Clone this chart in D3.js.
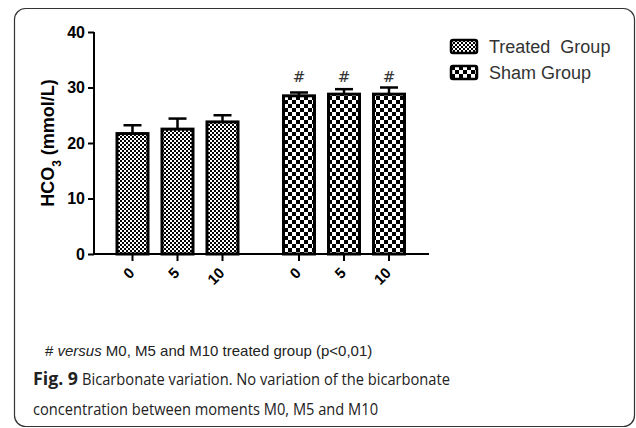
<!DOCTYPE html>
<html>
<head>
<meta charset="utf-8">
<script src="https://cdn.jsdelivr.net/npm/d3@7"></script>
<style>
  body { margin: 0; background: #fff; }
  svg { display: block; }
  svg text { white-space: pre; }
</style>
</head>
<body>
<div id="plot"></div>
<script>
// Bicarbonate values
const groups = ["Treated", "Sham"];
const moments = ["0", "5", "10"];
const treatedMean = [21.7, 22.5, 23.8];
const treatedErr = [1.5, 1.9, 1.2];
const shamMean = [28.5, 28.8, 28.8];
const shamErr = [0.6, 0.9, 1.2];
const yTicks = [0, 10, 20, 30, 40];
const legendLabels = ["Treated  Group", "Sham Group"];

const bars = [];
moments.forEach((m, i) => bars.push({group: "Treated", moment: m, slot: i, mean: treatedMean[i], err: treatedErr[i]}));
moments.forEach((m, i) => bars.push({group: "Sham", moment: m, slot: i + 3.7, mean: shamMean[i], err: shamErr[i]}));

const svg = d3.select("#plot")
  .append("svg")
  .attr("width", 636)
  .attr("height", 428);

const arial = "'Liberation Sans', Arial, sans-serif";

// patterns
const defs = svg.append("defs");
function checker(id, c) {
  const p = defs.append("pattern")
    .attr("id", id)
    .attr("patternUnits", "userSpaceOnUse")
    .attr("width", c * 2)
    .attr("height", c * 2);
  p.append("rect").attr("width", c * 2).attr("height", c * 2).attr("fill", "#fff");
  p.append("rect").attr("width", c).attr("height", c).attr("fill", "#000");
  p.append("rect").attr("x", c).attr("y", c).attr("width", c).attr("height", c).attr("fill", "#000");
}
checker("fine", 2);
checker("coarse", 4);
const fillFor = g => g === "Treated" ? "url(#fine)" : "url(#coarse)";

// figure frame
svg.append("rect")
  .attr("x", 14.5).attr("y", 8.5)
  .attr("width", 620).attr("height", 418)
  .attr("rx", 11)
  .attr("fill", "none")
  .attr("stroke", "#333")
  .attr("stroke-width", 1.2);

// scales
const x = d3.scaleLinear().domain([0, 1]).range([132.5, 177.5]);
const y = d3.scaleLinear().domain([0, 40]).range([254, 32]);
const barW = 31;

// y axis
const yAxis = svg.append("g")
  .attr("transform", "translate(94,0)")
  .call(d3.axisLeft(y).tickValues(yTicks).tickSize(6).tickPadding(3));
yAxis.select(".domain").attr("stroke-width", 2).attr("d", `M0,${y(40)}V${y(0)}`);
yAxis.selectAll(".tick line").attr("stroke-width", 2);
yAxis.selectAll(".tick text")
  .attr("font-family", arial)
  .attr("font-weight", "bold")
  .attr("font-size", 16)
  .attr("fill", "#000");

// x baseline
svg.append("line")
  .attr("x1", 93).attr("x2", 429)
  .attr("y1", y(0)).attr("y2", y(0))
  .attr("stroke", "#000").attr("stroke-width", 2);

// bars
svg.selectAll("rect.bar")
  .data(bars)
  .enter()
  .append("rect")
  .attr("class", "bar")
  .attr("x", d => x(d.slot) - barW / 2)
  .attr("y", d => y(d.mean))
  .attr("width", barW)
  .attr("height", d => y(0) - y(d.mean))
  .attr("fill", d => fillFor(d.group))
  .attr("stroke", "#000")
  .attr("stroke-width", 3);

// error bars
const eb = svg.selectAll("g.err")
  .data(bars)
  .enter()
  .append("g")
  .attr("class", "err")
  .attr("stroke", "#000")
  .attr("stroke-width", 2.5);
eb.append("line")
  .attr("x1", d => x(d.slot)).attr("x2", d => x(d.slot))
  .attr("y1", d => y(d.mean)).attr("y2", d => y(d.mean + d.err));
eb.append("line")
  .attr("x1", d => x(d.slot) - 9).attr("x2", d => x(d.slot) + 9)
  .attr("y1", d => y(d.mean + d.err)).attr("y2", d => y(d.mean + d.err));

// x ticks and labels
svg.selectAll("line.xtick")
  .data(bars)
  .enter()
  .append("line")
  .attr("x1", d => x(d.slot)).attr("x2", d => x(d.slot))
  .attr("y1", y(0)).attr("y2", y(0) + 7)
  .attr("stroke", "#000").attr("stroke-width", 2);
svg.selectAll("text.xlab")
  .data(bars)
  .enter()
  .append("text")
  .attr("transform", d => `translate(${x(d.slot) - 5},${y(0) + 12}) rotate(-45)`)
  .attr("text-anchor", "end")
  .attr("dy", "0.75em")
  .attr("font-family", arial)
  .attr("font-weight", "bold")
  .attr("font-size", 15)
  .text(d => d.moment);

// significance marks
svg.selectAll("text.sig")
  .data(bars.filter(d => d.group === "Sham"))
  .enter()
  .append("text")
  .attr("x", d => x(d.slot))
  .attr("y", 82)
  .attr("text-anchor", "middle")
  .attr("font-family", "'DejaVu Serif', serif")
  .attr("font-size", 15)
  .attr("fill", "#333")
  .text("#");

// y label
svg.append("text")
  .attr("transform", `translate(54,${y(20)}) rotate(-90)`)
  .attr("text-anchor", "middle")
  .attr("font-family", arial)
  .attr("font-weight", "bold")
  .attr("font-size", 18)
  .html('HCO<tspan baseline-shift="sub" font-size="12">3</tspan> (mmol/L)');

// legend
const leg = svg.selectAll("g.leg")
  .data(groups)
  .enter()
  .append("g")
  .attr("transform", (d, i) => `translate(451,${40 + i * 26})`);
leg.append("rect")
  .attr("width", 26).attr("height", 13)
  .attr("rx", 2)
  .attr("fill", d => fillFor(d))
  .attr("stroke", "#000").attr("stroke-width", 2.5);
leg.append("text")
  .attr("x", 38).attr("y", 13)
  .attr("font-family", arial)
  .attr("font-size", 18)
  .attr("fill", "#333")
  .text((d, i) => legendLabels[i]);

// footnote
const foot = svg.append("text")
  .attr("x", 45).attr("y", 356)
  .attr("font-family", arial)
  .attr("font-size", 15)
  .attr("fill", "#222");
foot.append("tspan").text("# ");
foot.append("tspan").attr("font-style", "italic").text("versus");
foot.append("tspan").text(" M0, M5 and M10 treated group (p<0,01)");

// caption
const capFont = "'Open Sans', sans-serif";
svg.append("text")
  .attr("x", 33).attr("y", 385)
  .attr("font-family", capFont)
  .attr("font-weight", "bold")
  .attr("font-size", 17)
  .attr("fill", "#222")
  .attr("textLength", 45)
  .attr("lengthAdjust", "spacingAndGlyphs")
  .text("Fig. 9");
svg.append("text")
  .attr("x", 82).attr("y", 385)
  .attr("font-family", capFont)
  .attr("font-size", 17)
  .attr("fill", "#222")
  .attr("textLength", 368)
  .attr("lengthAdjust", "spacingAndGlyphs")
  .text("Bicarbonate variation. No variation of the bicarbonate");
svg.append("text")
  .attr("x", 33).attr("y", 415)
  .attr("font-family", capFont)
  .attr("font-size", 17)
  .attr("fill", "#222")
  .attr("textLength", 345)
  .attr("lengthAdjust", "spacingAndGlyphs")
  .text("concentration between moments M0, M5 and M10");
</script>
</body>
</html>
